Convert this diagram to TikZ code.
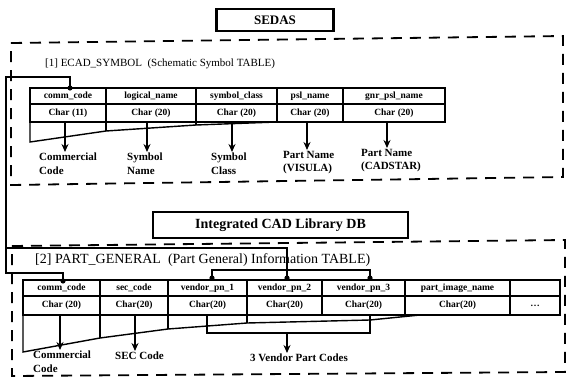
\documentclass[tikz,border=0pt]{standalone}
\usepackage{fontspec}
\setmainfont{Liberation Serif}
\usetikzlibrary{arrows.meta,calc,positioning}

\tikzset{
  cell/.style={font=\fontsize{9.5}{10}\selectfont\bfseries, inner sep=0pt},
  lbl/.style={font=\fontsize{11}{13.5}\selectfont\bfseries, align=left, inner sep=0pt, anchor=north west},
  ttl/.style={font=\fontsize{11}{12}\selectfont, inner sep=0pt, anchor=west},
  dbbox/.style={draw, line width=2.2pt, inner sep=0pt, font=\bfseries},
  frame/.style={line width=1.8pt, dash pattern=on 11pt off 8pt},
  tab/.style={line width=1.4pt},
  link/.style={line width=2pt},
  down/.style={line width=1.4pt, -{Stealth[length=8pt,width=7pt]}, shorten >=1pt},
}

\begin{document}
\begin{tikzpicture}[x=1pt,y=-1pt]
\useasboundingbox (0,0) rectangle (568,380);

\node[dbbox, minimum width=117pt, minimum height=22pt, font=\fontsize{13}{14}\selectfont\bfseries] (sedas) at (275,20) {SEDAS};
\node[dbbox, minimum width=255pt, minimum height=26pt, font=\fontsize{14}{15}\selectfont\bfseries] (icl) at (280.5,225) {Integrated CAD Library DB};

\draw[frame] (11,43) -- (563,36) -- (563,177) -- (11,185) -- cycle;
\draw[frame] (12,246) -- (565,240) -- (565,372) -- (12,376) -- cycle;

\node[ttl] (t1) at (45,64) {[1] ECAD\_SYMBOL\ \ (Schematic Symbol TABLE)};
\node[ttl, font=\fontsize{14}{15}\selectfont] (t2) at (35,260) {[2]\ PART\_GENERAL\ \ (Part General) Information TABLE)};

% ECAD_SYMBOL
\draw[tab] (30,88) rectangle (445,122);
\draw[tab] (30,104) -- (445,104);
\foreach \x in {106,196,277,343} \draw[tab] (\x,88) -- (\x,122);
\draw[tab] (30,122) -- (30,142) -- (106,131) -- (196,125) -- (277,122);
\draw[tab] (106,122) -- (106,131) (196,122) -- (196,125);
\foreach \xa/\xb/\h/\c [count=\i] in {30/106/comm\_code/Char (11),106/196/logical\_name/Char (20),196/277/symbol\_class/Char (20),277/343/psl\_name/Char (20),343/445/gnr\_psl\_name/Char (20)}{
  \node[cell] (eh\i) at ({(\xa+\xb)/2},96) {\h};
  \node[cell] (ec\i) at ({(\xa+\xb)/2},113) {\c};
}

\node[lbl] (el1) at (39,153) {Commercial\\Code};
\node[lbl] (el2) at (127,153) {Symbol\\Name};
\node[lbl] (el3) at (211,153) {Symbol\\Class};
\node[lbl] (el4) at (283,151) {Part Name\\(VISULA)};
\node[lbl] (el5) at (361,149) {Part Name\\(CADSTAR)};
\foreach \x [count=\i] in {65,147,232,307,387}{
  \coordinate (ea\i) at (\x,122);
  \draw[down] (ea\i) -- (ea\i |- el\i.north);
}

% PART_GENERAL
\draw[tab] (23,280) rectangle (560,315);
\draw[tab] (23,296) -- (560,296);
\foreach \x in {100,168,247,322,405,510} \draw[tab] (\x,280) -- (\x,315);
\draw[tab] (23,315) -- (23,352) -- (100,338) -- (168,329) -- (247,323) -- (370,320) -- (420,315);
\draw[tab] (100,315) -- (100,338) (168,315) -- (168,329) (247,315) -- (247,323);
\draw[tab] (207,315) -- (207,333) -- (370,333) -- (370,315);
\foreach \xa/\xb/\h/\c [count=\i] in {23/100/comm\_code/Char (20),100/168/sec\_code/Char(20),168/247/vendor\_pn\_1/Char(20),247/322/vendor\_pn\_2/Char(20),322/405/vendor\_pn\_3/Char(20),405/510/part\_image\_name/Char(20),510/560/{}/\dots}{
  \node[cell] (ph\i) at ({(\xa+\xb)/2},288) {\h};
  \node[cell] (pc\i) at ({(\xa+\xb)/2},305.5) {\c};
}

\node[lbl] (pl1) at (33,351) {Commercial\\Code};
\node[lbl] (pl2) at (115,352) {SEC Code};
\node[lbl] (pl3) at (250,354) {3 Vendor Part Codes};
\coordinate (pa1) at (60,315);
\coordinate (pa2) at (135,315);
\coordinate (pa3) at (287,333);
\foreach \i in {1,2,3} \draw[down] (pa\i) -- (pa\i |- pl\i.north);

% key links
\coordinate (bt) at (6,77);
\coordinate (bm) at (6,248);
\coordinate (bb) at (6,273);
\coordinate (k1) at (70,88);
\coordinate (k2) at (63,281);
\coordinate (v1) at (212,278);
\coordinate (v2) at (287,278);
\coordinate (v3) at (370,278);
\draw[link] (k1) |- (bt) -- (bb) -| (k2);
\draw[link] (bm) -| (v2);
\draw[link] (v1) |- (212,270) -| (v3);
\foreach \p in {k1,k2,v1,v2,v3} \fill (\p) circle (2.6pt);
\end{tikzpicture}
\end{document}
